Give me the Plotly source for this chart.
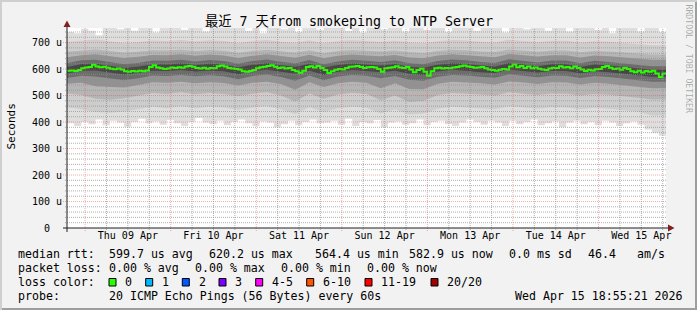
import plotly.graph_objects as go
import pandas as pd

# ---------------- data (values in microseconds) ----------------
start = pd.Timestamp("2026-04-08 18:55:21")
end = pd.Timestamp("2026-04-15 18:55:21")

# median rtt, hourly
median_us = [
    594, 595, 593, 596, 603, 606, 608, 616, 610, 607, 609, 605, 601, 599, 602, 598, 592, 590, 593, 591, 594, 592, 595, 608, 614, 606, 603, 600, 602,
    606, 604, 607, 605, 610, 612, 609, 604, 602, 605, 601, 604, 603, 611, 613, 610, 604, 602, 600, 598, 592, 590, 593, 596, 603, 607, 609, 612,
    614, 609, 604, 606, 602, 604, 596, 592, 586, 594, 608, 611, 606, 612, 604, 596, 585, 592, 597, 600, 598, 604, 609, 610, 612, 608, 604, 607, 608,
    606, 600, 590, 603, 605, 607, 611, 606, 604, 608, 598, 588, 596, 601, 590, 575, 592, 603, 605, 602, 604, 603, 606, 608, 611, 613, 610, 608, 605,
    606, 608, 603, 598, 596, 594, 597, 600, 598, 610, 617, 607, 612, 604, 610, 603, 606, 601, 598, 596, 602, 605, 604, 611, 606, 608, 603, 610, 604,
    598, 593, 597, 595, 599, 600, 608, 612, 605, 600, 602, 597, 604, 600, 592, 588, 594, 587, 593, 590, 594, 583, 570, 583,
]

# smoke envelope, every 2 hours
rtt_max = [
    740, 735, 752, 745, 728, 760, 770, 750, 765, 745, 770, 760,
    738, 770, 755, 770, 748, 770, 765, 742, 770, 760, 770, 755,
    770, 745, 770, 735, 760, 770, 750, 770, 740, 765, 770, 748,
    770, 760, 770, 745, 770, 738, 765, 770, 750, 770, 760, 742,
    770, 770, 748, 765, 770, 740, 770, 755, 770, 745, 770, 760,
    770, 738, 770, 765, 750, 770, 770, 745, 770, 760, 742, 770,
    765, 770, 748, 770, 735, 770, 760, 770, 742, 770, 755, 740,
]
rtt_min = [
    395, 385, 400, 392, 410, 388, 405, 398, 382, 400, 412, 395,
    402, 390, 408, 395, 385, 400, 415, 398, 392, 405, 388, 400,
    410, 395, 385, 402, 398, 380, 392, 405, 388, 400, 410, 395,
    398, 405, 390, 412, 385, 400, 395, 408, 380, 398, 402, 390,
    395, 410, 388, 400, 405, 392, 385, 398, 410, 400, 390, 405,
    398, 385, 405, 392, 400, 410, 388, 395, 402, 380, 398, 405,
    392, 400, 388, 405, 398, 385, 395, 402, 390, 372, 360, 348,
]

# inner smoke layers, every 4 hours
p05 = [455, 448, 438, 435, 440, 450, 458, 452, 460, 452, 458, 455, 446, 455, 460, 448, 430, 456, 438, 452, 458,
       454, 432, 448, 428, 432, 450, 458, 455, 452, 448, 460, 455, 450, 456, 455, 448, 454, 450, 445, 440, 425]
p95 = [702, 706, 712, 705, 698, 702, 708, 706, 710, 704, 709, 706, 698, 705, 710, 703, 699, 708, 697, 705, 709,
       706, 702, 707, 700, 697, 705, 710, 708, 703, 700, 711, 706, 701, 707, 707, 700, 705, 703, 698, 695, 690]
p15 = [508, 502, 488, 484, 490, 500, 510, 506, 512, 505, 510, 506, 498, 507, 512, 500, 478, 508, 488, 504, 510,
       506, 482, 500, 476, 480, 502, 510, 508, 504, 500, 512, 507, 502, 508, 507, 500, 506, 503, 498, 492, 485]
p85 = [665, 670, 674, 668, 662, 665, 671, 670, 673, 668, 672, 669, 661, 668, 673, 667, 662, 671, 660, 668, 672,
       669, 666, 670, 663, 660, 668, 673, 671, 666, 664, 674, 669, 665, 670, 670, 663, 668, 666, 662, 659, 655]
p25 = [545, 548, 535, 532, 530, 540, 550, 548, 552, 546, 550, 547, 538, 548, 552, 544, 522, 550, 532, 546, 552,
       548, 528, 546, 525, 524, 545, 552, 550, 546, 542, 553, 549, 544, 550, 549, 542, 548, 545, 540, 535, 528]
p75 = [645, 652, 656, 650, 642, 646, 653, 652, 656, 650, 655, 651, 642, 650, 656, 649, 643, 654, 641, 650, 655,
       651, 648, 653, 644, 641, 651, 656, 653, 648, 645, 657, 652, 647, 652, 652, 644, 651, 648, 643, 640, 635]
p35 = [566, 575, 572, 566, 558, 565, 576, 574, 578, 573, 577, 573, 562, 574, 579, 570, 556, 576, 558, 572, 578,
       575, 565, 574, 560, 556, 571, 578, 576, 571, 567, 580, 575, 569, 576, 575, 566, 574, 570, 564, 560, 552]
p65 = [622, 633, 635, 627, 618, 623, 632, 631, 635, 629, 634, 630, 620, 630, 636, 628, 621, 634, 618, 629, 635,
       631, 627, 633, 622, 618, 630, 636, 633, 627, 623, 637, 632, 625, 632, 632, 622, 631, 627, 621, 617, 611]
p45 = [583, 594, 595, 588, 579, 585, 594, 593, 596, 591, 595, 592, 580, 592, 597, 590, 582, 595, 578, 590, 596,
       593, 588, 594, 582, 578, 591, 597, 594, 588, 585, 598, 593, 587, 594, 593, 584, 592, 588, 582, 578, 571]
p55 = [607, 619, 620, 612, 604, 609, 618, 617, 621, 615, 620, 616, 606, 616, 622, 614, 608, 620, 605, 615, 621,
       617, 613, 619, 608, 605, 616, 622, 619, 613, 609, 623, 618, 611, 618, 618, 608, 617, 613, 607, 603, 597]

y_tick_vals = [0, 100, 200, 300, 400, 500, 600, 700]
y_tick_text = ["0\u00a0\u00a0", "100 u", "200 u", "300 u", "400 u", "500 u", "600 u", "700 u"]

title_text = "最近 7 天from smokeping to NTP Server"
loss_labels = ["0", "1", "2", "3", "4-5", "6-10", "11-19", "20/20"]
loss_colors = ["#26ff00", "#00b8ff", "#0059ff", "#7e00ff", "#ff00ff", "#ff5500", "#ff0000", "#a10000"]

# ---------------- layout constants (pixels) ----------------
W, H = 697, 310
PL, PR, PT, PB = 67, 666, 28, 228
YMAX = 755
MONO = "DejaVu Sans Mono, Noto Sans CJK SC, monospace"


def px(x):
    return (x - PL) / (PR - PL)


def py(y):
    return (PB - y) / (PB - PT)


def tx(t):
    return (t - start) / (end - start)


def vy(v):
    return v / YMAX


def steps(vals, hours):
    xs = list(pd.date_range(start, periods=len(vals), freq=f"{hours}h")) + [end]
    ys = list(vals) + [vals[-1]]
    return xs, ys


fig = go.Figure()

bands = [
    (rtt_min, rtt_max, 2, "#dedede", "hv"),
    (p05, p95, 4, "#cdcdcd", "linear"),
    (p15, p85, 4, "#b5b5b5", "linear"),
    (p25, p75, 4, "#929292", "linear"),
    (p35, p65, 4, "#6c6c6c", "linear"),
    (p45, p55, 4, "#474747", "linear"),
]
for lo, hi, hrs, col, shp in bands:
    xl, yl = steps(lo, hrs)
    xh, yh = steps(hi, hrs)
    fig.add_trace(go.Scatter(x=xl, y=yl, mode="lines", line=dict(width=0, shape=shp),
                             showlegend=False, hoverinfo="skip"))
    fig.add_trace(go.Scatter(x=xh, y=yh, mode="lines", line=dict(width=0, shape=shp),
                             fill="tonexty", fillcolor=col, showlegend=False, hoverinfo="skip"))

xm, ym = steps(median_us, 1)
fig.add_trace(go.Scatter(x=xm, y=ym, mode="lines", line=dict(color="#26ff00", width=2, shape="hv"),
                         showlegend=False))

shapes = []
GRID = "rgba(143,143,143,0.7)"
MGRID = "rgba(222,79,79,0.45)"
DOT = "1px,1px"

# minor/major vertical grid
for t in pd.date_range("2026-04-08 00:00", "2026-04-16 00:00", freq="6h"):
    if start < t < end:
        major = t.hour == 0
        shapes.append(dict(type="line", xref="paper", yref="paper", layer="above",
                           x0=tx(t), x1=tx(t), y0=py(PB + (3 if major else 2)), y1=1,
                           line=dict(color=MGRID if major else GRID, width=1, dash=DOT)))
# horizontal grid
for v in range(20, YMAX, 20):
    major = v % 100 == 0
    shapes.append(dict(type="line", xref="paper", yref="paper", layer="above",
                       x0=px(PL - (4 if major else 2)), x1=1, y0=vy(v), y1=vy(v),
                       line=dict(color=MGRID if major else GRID, width=1, dash=DOT)))

# axes
shapes.append(dict(type="line", xref="paper", yref="paper", layer="above",
                   x0=px(63), x1=px(670), y0=0, y1=0, line=dict(color="#1f1f1f", width=1)))
shapes.append(dict(type="line", xref="paper", yref="paper", layer="above",
                   x0=0, x1=0, y0=py(232), y1=py(25), line=dict(color="#1f1f1f", width=1)))
# arrows
shapes.append(dict(type="path", xref="paper", yref="paper", layer="above",
                   path=f"M {px(67)} {py(20.5)} L {px(63.5)} {py(27)} L {px(70.5)} {py(27)} Z",
                   fillcolor="#801f1f", line=dict(width=0)))
shapes.append(dict(type="path", xref="paper", yref="paper", layer="above",
                   path=f"M {px(674.5)} {py(228)} L {px(668)} {py(224.5)} L {px(668)} {py(231.5)} Z",
                   fillcolor="#801f1f", line=dict(width=0)))

# borders (rrdtool shades)
shapes += [
    dict(type="rect", xref="paper", yref="paper", layer="above", x0=px(0), x1=px(W), y0=py(2), y1=py(0),
         fillcolor="#cfcfcf", line=dict(width=0)),
    dict(type="rect", xref="paper", yref="paper", layer="above", x0=px(0), x1=px(2), y0=py(H), y1=py(0),
         fillcolor="#cfcfcf", line=dict(width=0)),
    dict(type="rect", xref="paper", yref="paper", layer="above", x0=px(2), x1=px(W), y0=py(H), y1=py(H - 2),
         fillcolor="#9e9e9e", line=dict(width=0)),
    dict(type="rect", xref="paper", yref="paper", layer="above", x0=px(W - 2), x1=px(W), y0=py(H), y1=py(2),
         fillcolor="#9e9e9e", line=dict(width=0)),
]

annotations = []


def ann(x, y, text, size=11.6, anchor="left", color="#000000", angle=0):
    annotations.append(dict(x=px(x), y=py(y), xref="paper", yref="paper", text=text, showarrow=False,
                            xanchor=anchor, yanchor="middle", textangle=angle,
                            font=dict(family=MONO, size=size, color=color)))


ann(348.5, 21.5, title_text, size=13.3, anchor="center")
ann(10.5, 127, "Seconds", size=11, anchor="center", angle=-90)
ann(688.5, 59, "RRDTOOL / TOBI OETIKER", size=8.2, anchor="center", color="rgba(0,0,0,0.33)", angle=90)

# legend lines
ann(16, 254, "median rtt:")
ann(107, 254, "599.7 us avg")
ann(207, 254, "620.2 us max")
ann(312.7, 254, "564.4 us min")
ann(407.3, 254, "582.9 us now")
ann(507.3, 254, "0.0 ms sd")
ann(586, 254, "46.4")
ann(635, 254, "am/s")

ann(16, 268, "packet loss:")
ann(107, 268, "0.00 % avg")
ann(193.3, 268, "0.00 % max")
ann(279.3, 268, "0.00 % min")
ann(365, 268, "0.00 % now")

ann(16, 282, "loss color:")
box_x = [109, 145.7, 182.3, 219, 255.7, 306.7, 365, 431]
for bx, lab, col in zip(box_x, loss_labels, loss_colors):
    shapes.append(dict(type="rect", xref="paper", yref="paper", layer="above",
                       x0=px(bx), x1=px(bx + 7), y0=py(286), y1=py(278.5),
                       fillcolor=col, line=dict(color="#000000", width=1)))
    ann(bx + 14.3, 282, lab)

ann(16, 296, "probe:")
ann(107, 296, "20 ICMP Echo Pings (56 Bytes) every 60s")
ann(512.7, 296, "Wed Apr 15 18:55:21 2026")

fig.update_layout(
    width=W, height=H, autosize=False,
    margin=dict(l=PL, r=W - PR, t=PT, b=H - PB, pad=0),
    paper_bgcolor="#f2f2f2", plot_bgcolor="#ffffff",
    shapes=shapes, annotations=annotations, showlegend=False,
    xaxis=dict(type="date", range=[start, end], showgrid=False, zeroline=False, showline=False,
               tick0="2026-04-09 00:00:00", dtick=86400000, ticklabelmode="period",
               tickformat="%a %d %b", ticks="", ticklabelstandoff=0,
               tickfont=dict(family=MONO, size=10, color="#000000")),
    yaxis=dict(range=[0, YMAX], showgrid=False, zeroline=False, showline=False,
               tickvals=y_tick_vals, ticktext=y_tick_text, ticks="", ticklabelstandoff=4,
               tickfont=dict(family=MONO, size=10, color="#000000")),
)

fig.write_html("out.html")
